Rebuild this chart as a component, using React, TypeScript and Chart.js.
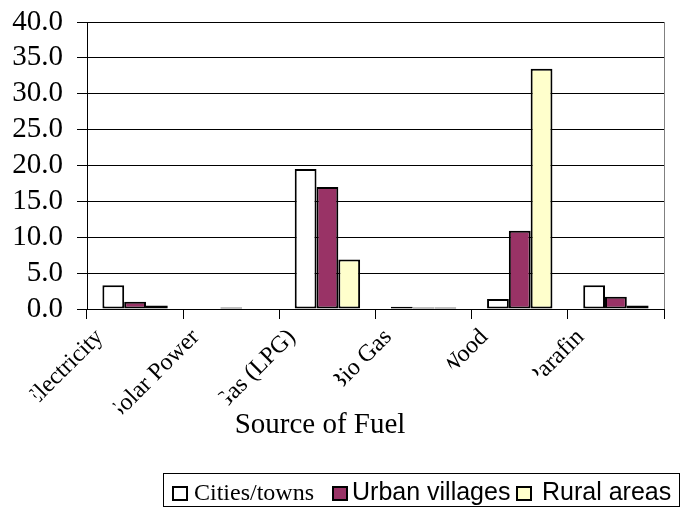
import React, { useEffect, useRef } from "react";
import { Chart, registerables } from "chart.js";

Chart.register(...registerables);

// ---- data ----
const categories = ["Electricity", "Solar Power", "Gas (LPG)", "Bio Gas", "Wood", "Parafin"];
const seriesNames = ["Cities/towns", "Urban villages", "Rural areas"];
const citiesTowns = [3.3, 0.0, 19.5, 0.3, 1.4, 3.3];
const urbanVillages = [1.0, 0.2, 17.0, 0.2, 10.9, 1.7];
const ruralAreas = [0.5, 0.0, 6.9, 0.2, 33.5, 0.5];
const yMin = 0;
const yMax = 40;
const yStep = 5;
const xAxisTitle = "Source of Fuel";

// ---- styles ----
const seriesColors = ["#FFFFFF", "#993366", "#FFFFCC"];
const legendFonts = ['24px "Liberation Serif"', '25px "Liberation Sans"', '25px "Liberation Sans"'];
const legendMarkerX = [172, 332, 516];
const legendTextX = [194, 352, 542];

const overlayPlugin = {
  id: "overlay",
  afterDraw(chart: any) {
    const ctx: CanvasRenderingContext2D = chart.ctx;
    const xs = chart.scales.x;
    const area = chart.chartArea;
    ctx.save();

    // right plot-area border
    ctx.strokeStyle = "#808080";
    ctx.lineWidth = 1;
    const rx = Math.round(area.right) + 0.5;
    ctx.beginPath();
    ctx.moveTo(rx, area.top);
    ctx.lineTo(rx, area.bottom);
    ctx.stroke();

    // rotated, clipped category labels
    ctx.font = '24px "Liberation Serif"';
    ctx.fillStyle = "#000";
    (chart.data.labels as string[]).forEach((lab, i) => {
      const cx = xs.getPixelForValue(i);
      const w = ctx.measureText(lab).width;
      ctx.save();
      ctx.translate(cx - 31, 338);
      ctx.rotate(-Math.PI / 4);
      ctx.beginPath();
      ctx.rect(-(w - 9), -40, w + 40, 80);
      ctx.clip();
      ctx.textAlign = "right";
      ctx.textBaseline = "alphabetic";
      ctx.fillText(lab, 0, 0);
      ctx.restore();
    });

    // axis title
    ctx.font = '29px "Liberation Serif"';
    ctx.textAlign = "center";
    ctx.textBaseline = "alphabetic";
    ctx.fillText(xAxisTitle, 320, 433);

    // legend
    ctx.strokeStyle = "#000";
    ctx.lineWidth = 1;
    ctx.strokeRect(163.5, 473.5, 516, 33);
    chart.data.datasets.forEach((ds: any, i: number) => {
      const mx = legendMarkerX[i];
      ctx.fillStyle = ds.backgroundColor;
      ctx.fillRect(mx, 486, 16, 15);
      ctx.lineWidth = 2;
      ctx.strokeStyle = "#000";
      ctx.strokeRect(mx + 1, 487, 14, 13);
      ctx.fillStyle = "#000";
      ctx.font = legendFonts[i];
      ctx.textAlign = "left";
      ctx.fillText(ds.label, legendTextX[i], 500);
    });

    ctx.restore();
  },
};

export default function App() {
  const ref = useRef<HTMLCanvasElement | null>(null);

  useEffect(() => {
    if (!ref.current) return;
    const values = [citiesTowns, urbanVillages, ruralAreas];
    const chart = new Chart(ref.current, {
      type: "bar",
      data: {
        labels: categories,
        datasets: seriesNames.map((name, i) => ({
          label: name,
          data: values[i],
          backgroundColor: seriesColors[i],
          borderColor: "#000000",
          borderWidth: 2,
          borderSkipped: false,
          barPercentage: 1,
          categoryPercentage: 0.68,
        })),
      },
      options: {
        responsive: false,
        animation: false,
        devicePixelRatio: 1,
        layout: { padding: { left: 0, top: 22, right: 17, bottom: 0 } },
        plugins: {
          legend: { display: false },
          tooltip: { enabled: false },
          title: { display: false },
        },
        scales: {
          x: {
            type: "category",
            offset: true,
            grid: {
              offset: true,
              drawOnChartArea: false,
              drawTicks: true,
              tickLength: 10,
              color: "#000",
              lineWidth: 1,
            },
            border: { display: true, color: "#000", width: 1 },
            ticks: { display: false },
            afterFit: (s: any) => {
              s.height = 513 - 309;
              s.paddingLeft = 0;
              s.paddingRight = 0;
            },
          },
          y: {
            min: yMin,
            max: yMax,
            grid: {
              color: "#000",
              lineWidth: 1,
              drawTicks: true,
              tickLength: 10,
            },
            border: { display: true, color: "#000", width: 1 },
            ticks: {
              stepSize: yStep,
              autoSkip: false,
              padding: 14,
              color: "#000",
              font: { family: '"Liberation Serif"', size: 29 },
              callback: (v: any) => Number(v).toFixed(1),
            },
            afterFit: (s: any) => {
              s.width = 87;
              s.paddingTop = 0;
              s.paddingBottom = 0;
            },
          },
        },
      },
      plugins: [overlayPlugin],
    });
    return () => chart.destroy();
  }, []);

  return (
    <div style={{ position: "absolute", left: 0, top: 0, width: 681, height: 513, background: "#fff" }}>
      <canvas ref={ref} width={681} height={513} style={{ width: 681, height: 513, display: "block" }} />
    </div>
  );
}
